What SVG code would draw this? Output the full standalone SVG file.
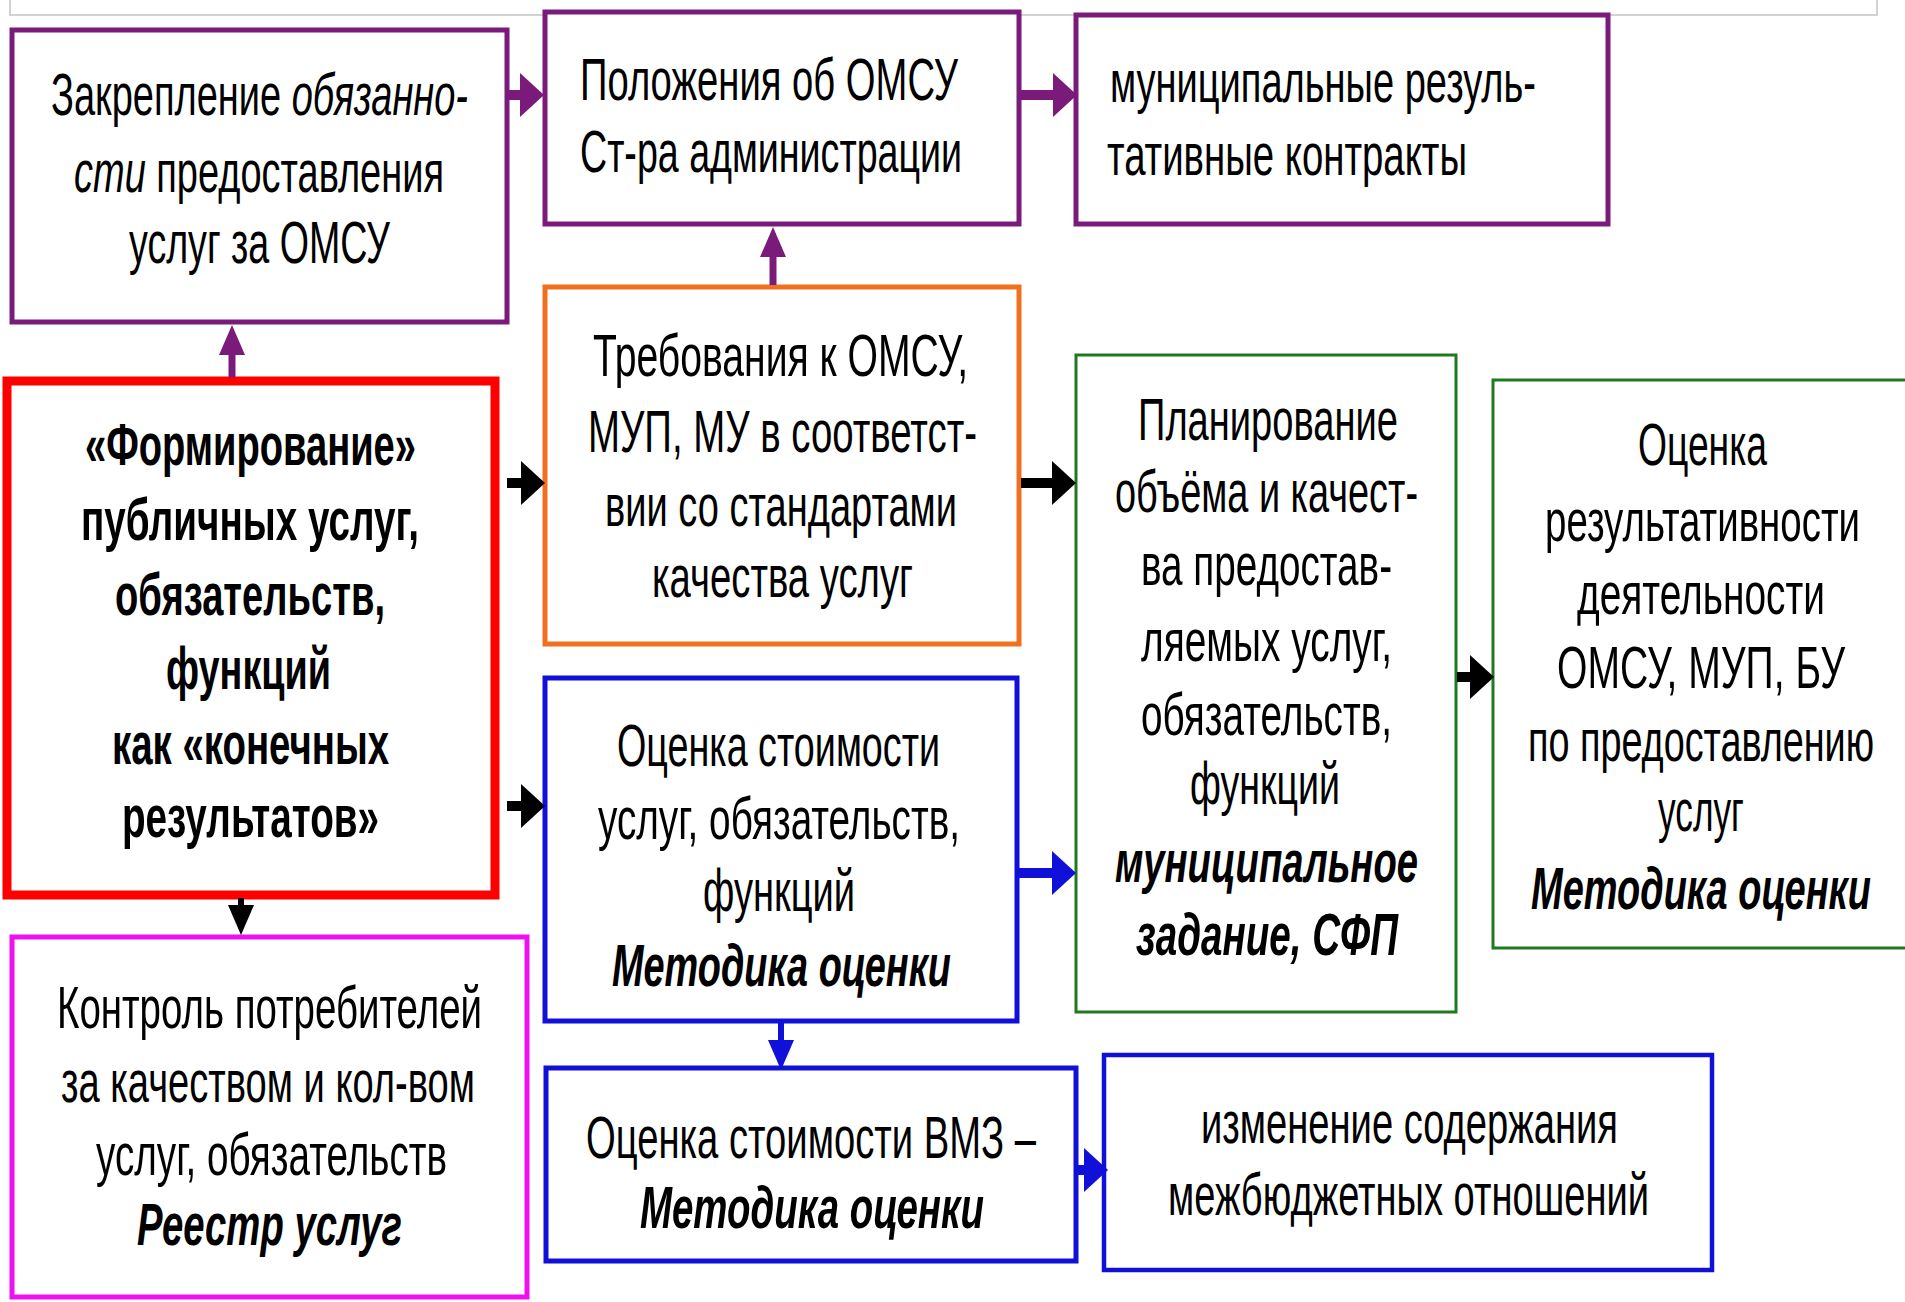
<svg xmlns="http://www.w3.org/2000/svg" width="1905" height="1302" viewBox="0 0 1905 1302">
<style>
.box{fill:#fff}
.t{font-family:"Liberation Sans",Arial,sans-serif;font-size:60px;fill:#000}
.b{font-weight:bold}
.i{font-style:italic}
.pur{stroke:#7a1a7a}
.blk{stroke:#000}
.blu{stroke:#1010d8}
</style>
<defs>
<marker id="hP" markerUnits="userSpaceOnUse" viewBox="0 0 24 44" markerWidth="24" markerHeight="44" refX="0" refY="22" orient="auto"><path d="M0,0 L24,22 L0,44 z" fill="#7a1a7a"/></marker>
<marker id="hK" markerUnits="userSpaceOnUse" viewBox="0 0 24 44" markerWidth="24" markerHeight="44" refX="0" refY="22" orient="auto"><path d="M0,0 L24,22 L0,44 z" fill="#000"/></marker>
<marker id="hB" markerUnits="userSpaceOnUse" viewBox="0 0 24 44" markerWidth="24" markerHeight="44" refX="0" refY="22" orient="auto"><path d="M0,0 L24,22 L0,44 z" fill="#1010d8"/></marker>
<marker id="vP" markerUnits="userSpaceOnUse" viewBox="0 0 30 26" markerWidth="30" markerHeight="26" refX="0" refY="13" orient="auto"><path d="M0,0 L30,13 L0,26 z" fill="#7a1a7a"/></marker>
<marker id="vK" markerUnits="userSpaceOnUse" viewBox="0 0 30 26" markerWidth="30" markerHeight="26" refX="0" refY="13" orient="auto"><path d="M0,0 L30,13 L0,26 z" fill="#000"/></marker>
<marker id="vB" markerUnits="userSpaceOnUse" viewBox="0 0 30 26" markerWidth="30" markerHeight="26" refX="0" refY="13" orient="auto"><path d="M0,0 L30,13 L0,26 z" fill="#1010d8"/></marker>
</defs>
<rect width="1905" height="1302" fill="#fff"/>
<rect x="10" y="-5" width="1867" height="20" fill="none" stroke="#c4c4c4" stroke-width="1.5"/>

<g id="nA">
<rect class="box" x="12" y="30" width="495" height="292" stroke="#7a1a7a" stroke-width="5"/>
<text class="t" x="51" y="115" textLength="417" lengthAdjust="spacingAndGlyphs">Закрепление <tspan class="i">обязанно-</tspan></text>
<text class="t" x="74" y="192" textLength="370" lengthAdjust="spacingAndGlyphs"><tspan class="i">сти</tspan> предоставления</text>
<text class="t" x="129" y="263" textLength="261" lengthAdjust="spacingAndGlyphs">услуг за ОМСУ</text>
</g>

<g id="nB">
<rect class="box" x="545" y="12" width="474" height="212" stroke="#7a1a7a" stroke-width="5"/>
<text class="t" x="580" y="100" textLength="378" lengthAdjust="spacingAndGlyphs">Положения об ОМСУ</text>
<text class="t" x="580" y="172" textLength="382" lengthAdjust="spacingAndGlyphs">Ст-ра администрации</text>
</g>

<g id="nC">
<rect class="box" x="1076" y="15" width="532" height="209" stroke="#7a1a7a" stroke-width="5"/>
<text class="t" x="1110" y="102" textLength="426" lengthAdjust="spacingAndGlyphs">муниципальные резуль-</text>
<text class="t" x="1107" y="175" textLength="360" lengthAdjust="spacingAndGlyphs">тативные контракты</text>
</g>

<g id="nD">
<rect class="box" x="7" y="381" width="488" height="514" stroke="#ff0000" stroke-width="9"/>
<text class="t b" x="85" y="465" textLength="331" lengthAdjust="spacingAndGlyphs">«Формирование»</text>
<text class="t b" x="81" y="540" textLength="338" lengthAdjust="spacingAndGlyphs">публичных услуг,</text>
<text class="t b" x="115" y="615" textLength="270" lengthAdjust="spacingAndGlyphs">обязательств,</text>
<text class="t b" x="166" y="689" textLength="165" lengthAdjust="spacingAndGlyphs">функций</text>
<text class="t b" x="112" y="764" textLength="277" lengthAdjust="spacingAndGlyphs">как «конечных</text>
<text class="t b" x="122" y="837" textLength="257" lengthAdjust="spacingAndGlyphs">результатов»</text>
</g>

<g id="nE">
<rect class="box" x="545" y="287" width="474" height="357" stroke="#f07020" stroke-width="5"/>
<text class="t" x="593" y="376" textLength="375" lengthAdjust="spacingAndGlyphs">Требования к ОМСУ,</text>
<text class="t" x="588" y="452" textLength="389" lengthAdjust="spacingAndGlyphs">МУП, МУ в соответст-</text>
<text class="t" x="605" y="526" textLength="352" lengthAdjust="spacingAndGlyphs">вии со стандартами</text>
<text class="t" x="652" y="597" textLength="261" lengthAdjust="spacingAndGlyphs">качества услуг</text>
</g>

<g id="nF">
<rect class="box" x="545" y="678" width="472" height="343" stroke="#1010d8" stroke-width="5"/>
<text class="t" x="617" y="766" textLength="323" lengthAdjust="spacingAndGlyphs">Оценка стоимости</text>
<text class="t" x="598" y="839" textLength="362" lengthAdjust="spacingAndGlyphs">услуг, обязательств,</text>
<text class="t" x="703" y="911" textLength="152" lengthAdjust="spacingAndGlyphs">функций</text>
<text class="t b i" x="612" y="986" textLength="339" lengthAdjust="spacingAndGlyphs">Методика оценки</text>
</g>

<g id="nG">
<rect class="box" x="1076" y="355" width="380" height="657" stroke="#1f7a1f" stroke-width="3"/>
<text class="t" x="1138" y="440" textLength="260" lengthAdjust="spacingAndGlyphs">Планирование</text>
<text class="t" x="1115" y="512" textLength="303" lengthAdjust="spacingAndGlyphs">объёма и качест-</text>
<text class="t" x="1141" y="585" textLength="251" lengthAdjust="spacingAndGlyphs">ва предостав-</text>
<text class="t" x="1141" y="661" textLength="251" lengthAdjust="spacingAndGlyphs">ляемых услуг,</text>
<text class="t" x="1141" y="735" textLength="251" lengthAdjust="spacingAndGlyphs">обязательств,</text>
<text class="t" x="1190" y="804" textLength="150" lengthAdjust="spacingAndGlyphs">функций</text>
<text class="t b i" x="1115" y="882" textLength="303" lengthAdjust="spacingAndGlyphs">муниципальное</text>
<text class="t b i" x="1136" y="955" textLength="262" lengthAdjust="spacingAndGlyphs">задание, СФП</text>
</g>

<g id="nH">
<rect class="box" x="1493" y="380" width="420" height="568" stroke="#1f7a1f" stroke-width="3"/>
<text class="t" x="1638" y="465" textLength="129" lengthAdjust="spacingAndGlyphs">Оценка</text>
<text class="t" x="1545" y="541" textLength="315" lengthAdjust="spacingAndGlyphs">результативности</text>
<text class="t" x="1577" y="614" textLength="248" lengthAdjust="spacingAndGlyphs">деятельности</text>
<text class="t" x="1557" y="688" textLength="288" lengthAdjust="spacingAndGlyphs">ОМСУ, МУП, БУ</text>
<text class="t" x="1528" y="761" textLength="346" lengthAdjust="spacingAndGlyphs">по предоставлению</text>
<text class="t" x="1658" y="831" textLength="86" lengthAdjust="spacingAndGlyphs">услуг</text>
<text class="t b i" x="1531" y="909" textLength="340" lengthAdjust="spacingAndGlyphs">Методика оценки</text>
</g>

<g id="nI">
<rect class="box" x="12" y="937" width="515" height="360" stroke="#ee10ee" stroke-width="5"/>
<text class="t" x="57" y="1028" textLength="425" lengthAdjust="spacingAndGlyphs">Контроль потребителей</text>
<text class="t" x="61" y="1102" textLength="414" lengthAdjust="spacingAndGlyphs">за качеством и кол-вом</text>
<text class="t" x="96" y="1175" textLength="351" lengthAdjust="spacingAndGlyphs">услуг, обязательств</text>
<text class="t b i" x="137" y="1245" textLength="265" lengthAdjust="spacingAndGlyphs">Реестр услуг</text>
</g>

<g id="nJ">
<rect class="box" x="546" y="1068" width="530" height="193" stroke="#1010d8" stroke-width="5"/>
<text class="t" x="586" y="1158" textLength="450" lengthAdjust="spacingAndGlyphs">Оценка стоимости ВМЗ –</text>
<text class="t b i" x="640" y="1228" textLength="344" lengthAdjust="spacingAndGlyphs">Методика  оценки</text>
</g>

<g id="nK">
<rect class="box" x="1104" y="1055" width="608" height="215" stroke="#1010d8" stroke-width="4.5"/>
<text class="t" x="1201" y="1143" textLength="417" lengthAdjust="spacingAndGlyphs">изменение содержания</text>
<text class="t" x="1168" y="1215" textLength="481" lengthAdjust="spacingAndGlyphs">межбюджетных отношений</text>
</g>

<g id="connectors" fill="none" stroke-width="10">
<line class="pur" x1="509" y1="95" x2="520" y2="95" marker-end="url(#hP)"/>
<line class="pur" x1="1021" y1="95" x2="1053" y2="95" marker-end="url(#hP)"/>
<line class="pur" x1="773" y1="285" x2="773" y2="257" stroke-width="7" marker-end="url(#vP)"/>
<line class="pur" x1="232" y1="377" x2="232" y2="355" stroke-width="7" marker-end="url(#vP)"/>
<line class="blk" x1="507" y1="483" x2="521" y2="483" marker-end="url(#hK)"/>
<line class="blk" x1="507" y1="806" x2="521" y2="806" marker-end="url(#hK)"/>
<line class="blk" x1="1021" y1="483" x2="1052" y2="483" marker-end="url(#hK)"/>
<line class="blk" x1="1457" y1="677" x2="1470" y2="677" marker-end="url(#hK)"/>
<line class="blk" x1="241" y1="898" x2="241" y2="905" stroke-width="6" marker-end="url(#vK)"/>
<line class="blu" x1="1019" y1="873" x2="1052" y2="873" marker-end="url(#hB)"/>
<line class="blu" x1="781" y1="1023" x2="781" y2="1040" stroke-width="6" marker-end="url(#vB)"/>
<line class="blu" x1="1078" y1="1170" x2="1084" y2="1170" marker-end="url(#hB)"/>
</g>
</svg>
